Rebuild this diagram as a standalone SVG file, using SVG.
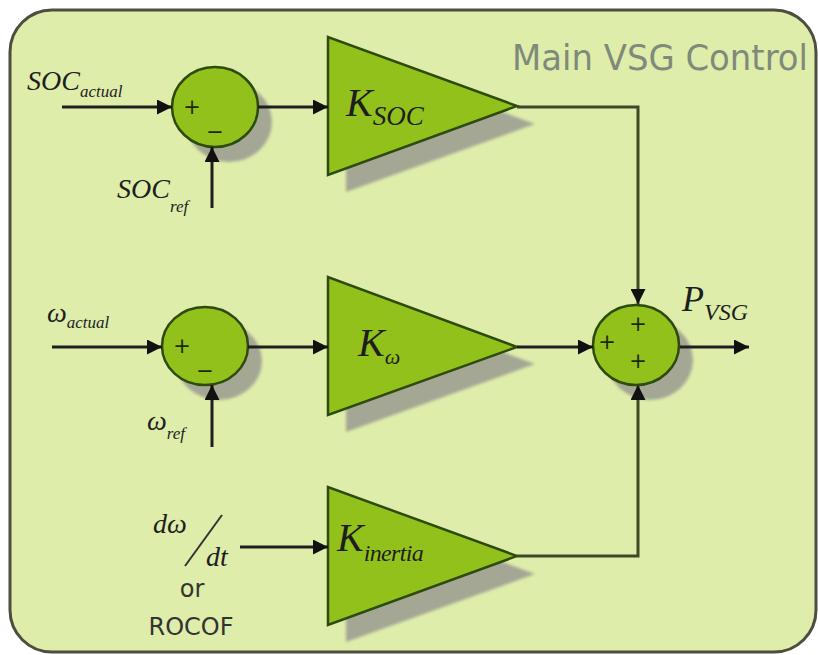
<svg xmlns="http://www.w3.org/2000/svg" width="818" height="655" viewBox="0 0 818 655">
<defs>
<style>
.blk{fill:#92c11c;stroke:#2e4a0c;stroke-width:2.5}
.shd{fill:#a3a794;filter:url(#bl)}
.wire{fill:none;stroke:#1e1e1e;stroke-width:3}
.wire2{fill:none;stroke:#3c4a28;stroke-width:3}
.ser{font-family:"Liberation Serif","DejaVu Serif",serif;font-style:italic;fill:#1e1e1e}
.sign{font-family:"DejaVu Sans","Liberation Sans",sans-serif;font-size:21px;fill:#1a2a05;text-anchor:middle}
.sans{font-family:"DejaVu Sans","Liberation Sans",sans-serif;fill:#333}
</style>
<filter id="bl" x="-20%" y="-20%" width="140%" height="140%"><feGaussianBlur stdDeviation="1.5"/></filter>
<marker id="ah" viewBox="0 0 10 10" refX="10" refY="5" markerWidth="5.5" markerHeight="5" orient="auto" markerUnits="strokeWidth"><path d="M0,0 L10,5 L0,10 z" fill="#111"/></marker>
</defs>
<rect x="0" y="0" width="818" height="655" fill="#ffffff"/>
<rect id="frame" x="10" y="10" width="806" height="642" rx="42" ry="42" fill="#dfedab" stroke="#4d4d40" stroke-width="3"/>
<text class="sans" x="512" y="70" font-size="35" style="fill:#808a7a" textLength="296" lengthAdjust="spacingAndGlyphs">Main VSG Control</text>

<g id="sum_soc">
<ellipse class="shd" cx="229" cy="122" rx="43" ry="40"/>
<ellipse class="blk" cx="215" cy="107" rx="43" ry="40"/>
<text class="sign" x="192" y="114">+</text>
<text class="sign" x="215" y="139">−</text>
</g>
<g id="gain_soc">
<polygon class="shd" points="346,54 346,192 535,124"/>
<polygon class="blk" points="328,37 328,175 517,106"/>
<text class="ser" x="346" y="116" font-size="40">K<tspan font-size="27" dy="9">SOC</tspan></text>
</g>

<g id="sum_w">
<ellipse class="shd" cx="219" cy="361" rx="43" ry="39"/>
<ellipse class="blk" cx="205" cy="346" rx="43" ry="39"/>
<text class="sign" x="182" y="353">+</text>
<text class="sign" x="205" y="378">−</text>
</g>
<g id="gain_w">
<polygon class="shd" points="346,294 346,432 535,364"/>
<polygon class="blk" points="328,277 328,415 517,347"/>
<text class="ser" x="358" y="356" font-size="40">K<tspan font-size="22" dy="8">ω</tspan></text>
</g>

<g id="gain_inertia">
<polygon class="shd" points="346,504 346,642 535,574"/>
<polygon class="blk" points="328,487 328,625 517,556"/>
<text class="ser" x="337" y="551" font-size="40">K<tspan font-size="24" dy="10" textLength="60">inertia</tspan></text>
</g>

<g id="sum_p">
<ellipse class="shd" cx="650" cy="360" rx="43" ry="40"/>
<ellipse class="blk" cx="636" cy="345" rx="43" ry="40"/>
<text class="sign" x="638" y="331">+</text>
<text class="sign" x="607" y="349">+</text>
<text class="sign" x="638" y="368">+</text>
</g>

<g id="connectors">
<line class="wire" x1="62" y1="107" x2="172" y2="107" marker-end="url(#ah)"/>
<line class="wire" x1="212" y1="208" x2="212" y2="147" marker-end="url(#ah)"/>
<line class="wire" x1="258" y1="107" x2="328" y2="107" marker-end="url(#ah)"/>
<line class="wire" x1="52" y1="347" x2="162" y2="347" marker-end="url(#ah)"/>
<line class="wire" x1="212" y1="447" x2="212" y2="385" marker-end="url(#ah)"/>
<line class="wire" x1="248" y1="347" x2="328" y2="347" marker-end="url(#ah)"/>
<line class="wire" x1="240" y1="547" x2="328" y2="547" marker-end="url(#ah)"/>
<polyline class="wire2" points="517,107 638,107 638,304" marker-end="url(#ah)"/>
<line class="wire" x1="517" y1="347" x2="593" y2="347" marker-end="url(#ah)"/>
<polyline class="wire2" points="517,556 638,556 638,385" marker-end="url(#ah)"/>
<line class="wire" x1="680" y1="347" x2="749" y2="347" marker-end="url(#ah)"/>
</g>

<g id="labels">
<text class="ser" x="27" y="90" font-size="28">SOC<tspan font-size="17" dy="7">actual</tspan></text>
<text class="ser" x="117" y="198" font-size="28">SOC<tspan font-size="17" dy="14">ref</tspan></text>
<text class="ser" x="47" y="322" font-size="28">ω<tspan font-size="17" dy="6">actual</tspan></text>
<text class="ser" x="147" y="430" font-size="28">ω<tspan font-size="17" dy="9">ref</tspan></text>
<text class="ser" x="682" y="311" font-size="36">P<tspan font-size="24" dy="9">VSG</tspan></text>
<text class="ser" x="153" y="533" font-size="28">dω</text>
<line x1="185" y1="566" x2="222" y2="515" stroke="#333" stroke-width="2"/>
<text class="ser" x="206" y="566" font-size="28">dt</text>
<text class="sans" x="192" y="597" font-size="24" text-anchor="middle">or</text>
<text class="sans" x="191" y="635" font-size="24" text-anchor="middle">ROCOF</text>
</g>
</svg>
